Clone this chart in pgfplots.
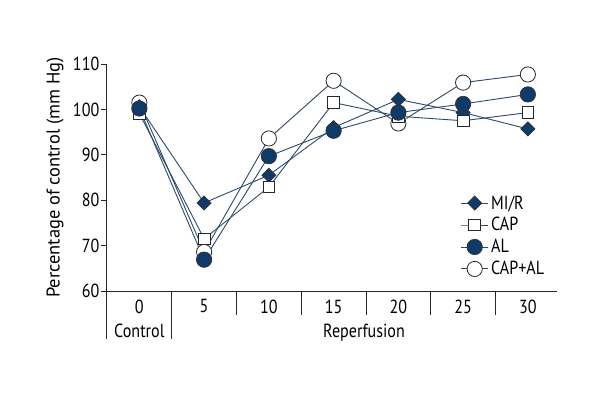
\documentclass[border=0pt]{standalone}
\usepackage{fontspec}
\setmainfont{PT Sans}[FakeStretch=0.85]
\newfontfamily\ylfont{PT Sans}
\usepackage{pgfplots}
\pgfplotsset{compat=1.18}
\definecolor{navy}{HTML}{103A68}
\definecolor{lnc}{HTML}{2A4A6A}
\pgfplotsset{
  dmk/.style={lnc, line width=0.9bp, mark=square*, mark size=5.0bp, mark options={rotate=45, fill=navy, draw=black!80, line width=0.7bp}},
  smk/.style={lnc, line width=0.9bp, mark=square*, mark size=5.8bp, mark options={fill=white, draw=black!85, line width=0.8bp}},
  cmk/.style={lnc, line width=0.9bp, mark=*, mark size=7.7bp, mark options={fill=navy, draw=black!80, line width=0.7bp}},
  omk/.style={lnc, line width=0.9bp, mark=*, mark size=7.6bp, mark options={fill=white, draw=black!85, line width=0.8bp}},
}
\begin{document}
\begin{tikzpicture}[x=1bp,y=1bp]
\path[use as bounding box] (0,0) rectangle (600,400);
\begin{axis}[
  at={(106bp,109bp)}, anchor=south west,
  scale only axis, width=451bp, height=227bp,
  xmin=-0.515, xmax=6.45, ymin=60, ymax=110,
  axis x line*=bottom, axis y line*=left,
  axis line style={line width=0.9bp, draw=black!85},
  xtick={0,...,6}, xticklabels={0,5,10,15,20,25,30},
  ytick={60,70,...,110},
  tick align=outside, major tick length=5bp,
  xtick style={draw=none},
  ytick style={line width=0.9bp, draw=black!85},
  tick label style={font=\fontsize{19}{21}\selectfont, inner sep=1.5bp},
  xticklabel style={yshift=-2bp},
  /pgf/number format/assume math mode=true,
  clip=false,
  legend style={draw=none, fill=none, at={(axis cs:4.96,81.4)}, anchor=north west,
    font=\fontsize{19}{21}\selectfont, row sep=4bp, column sep=1bp, inner sep=0pt,
    nodes={inner sep=1.5bp}},
  legend cell align=left,
  legend image code/.code={\draw[mark repeat=2,mark phase=2] plot coordinates {(0bp,0bp)(13.5bp,0bp)(27bp,0bp)};},
]
\addlegendimage{dmk}
\addlegendentry{MI/R}
\addlegendimage{smk}
\addlegendentry{CAP}
\addlegendimage{cmk}
\addlegendentry{AL}
\addlegendimage{omk}
\addlegendentry{CAP+AL}
% CAP+AL
\addplot[forget plot, omk]
  coordinates {(0,101.5)(1,68.6)(2,93.6)(3,106.3)(4,96.9)(5,105.9)(6,107.7)};
% MI/R
\addplot[forget plot, dmk]
  coordinates {(0,100.6)(1,79.4)(2,85.5)(3,96.0)(4,102.2)(5,99.3)(6,95.7)};
% CAP
\addplot[forget plot, smk]
  coordinates {(0,99.1)(1,71.5)(2,82.9)(3,101.5)(4,98.5)(5,97.5)(6,99.3)};
% AL
\addplot[forget plot, cmk]
  coordinates {(0,100.2)(1,66.9)(2,89.7)(3,95.3)(4,99.3)(5,101.2)(6,103.3)};
% axis decorations
\draw[line width=0.9bp, black!85] (axis cs:-0.515,60) -- ++(0pt,-48bp);
\draw[line width=0.9bp, black!85] (axis cs:0.5,60) -- ++(0pt,-48bp);
\draw[line width=0.9bp, black!85] (axis cs:1.5,60) -- ++(0pt,-24bp);
\draw[line width=0.9bp, black!85] (axis cs:2.5,60) -- ++(0pt,-24bp);
\draw[line width=0.9bp, black!85] (axis cs:3.5,60) -- ++(0pt,-24bp);
\draw[line width=0.9bp, black!85] (axis cs:4.5,60) -- ++(0pt,-24bp);
\draw[line width=0.9bp, black!85] (axis cs:5.5,60) -- ++(0pt,-24bp);
\path (axis cs:0,60) ++(0pt,-46bp) node[anchor=base, font=\fontsize{19}{21}\selectfont, inner sep=0pt] {Control};
\path (axis cs:3.47,60) ++(0pt,-46bp) node[anchor=base, font=\fontsize{19}{21}\selectfont, inner sep=0pt] {Reperfusion};
\path (axis cs:-0.515,85) ++(-51bp,0pt) node[rotate=90, anchor=center, font=\ylfont\fontsize{18.5}{20}\selectfont, inner sep=0pt] {Percentage of control (mm Hg)};
\end{axis}
\end{tikzpicture}
\end{document}
